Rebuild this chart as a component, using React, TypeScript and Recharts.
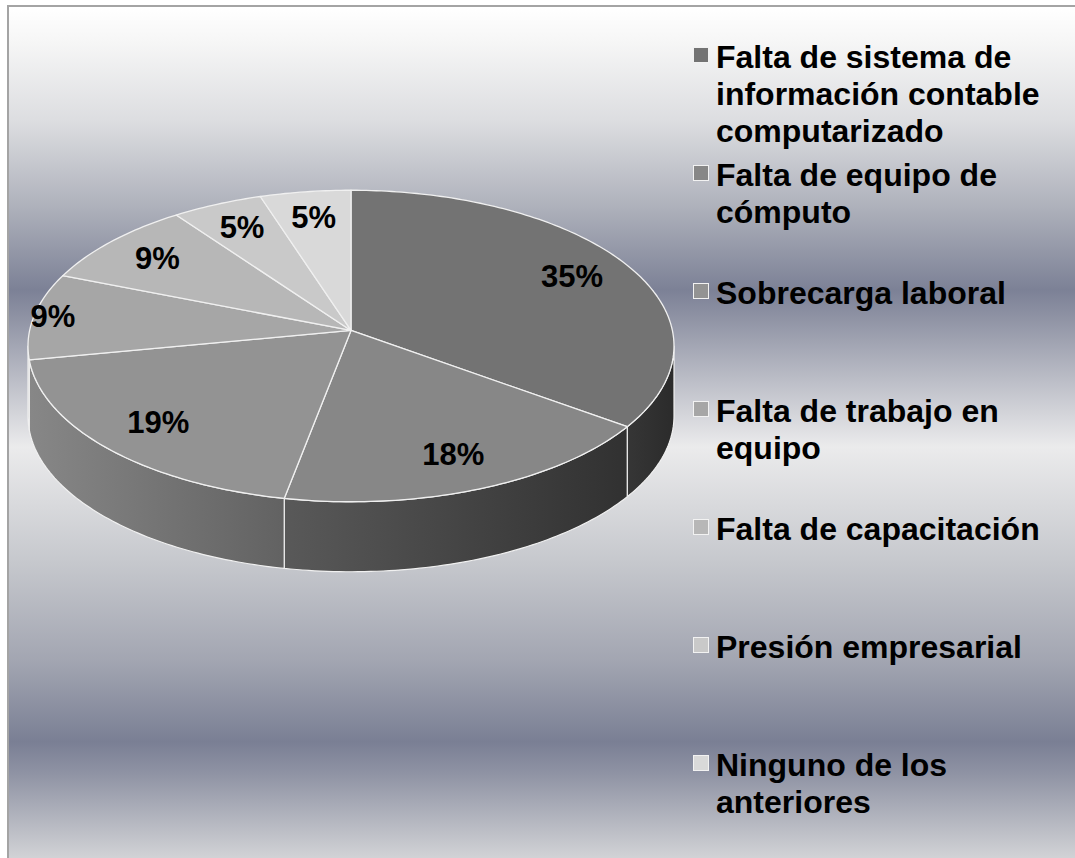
import React from 'react';
import { PieChart, Pie, Cell, Legend } from 'recharts';

// ---- data ----
const categories: string[] = [
  'Falta de sistema de información contable computarizado',
  'Falta de equipo de cómputo',
  'Sobrecarga laboral',
  'Falta de trabajo en equipo',
  'Falta de capacitación',
  'Presión empresarial',
  'Ninguno de los anteriores',
];
const percentages: number[] = [35, 18, 19, 9, 9, 5, 5];

// ---- styles ----
const topColors = ['#737373', '#878787', '#939393', '#a6a6a6', '#b7b7b7', '#c9c9c9', '#d9d9d9'];
const sideColors: [string, string][] = [
  ['#363636', '#2b2b2b'],
  ['#595959', '#313131'],
  ['#878787', '#626262'],
  ['#8e8e8e', '#878787'],
  ['#999999', '#999999'],
  ['#a9a9a9', '#a9a9a9'],
  ['#b5b5b5', '#b5b5b5'],
];
const labelRadiusFactor: Record<number, number> = { 3: 0.94 };

const A = -0.1; // perspective factor
const S = Math.sqrt(1 - A * A);
const RY_RATIO = 156 / 323.5;
const DEPTH = 70;
const EDGE = (Math.asin(-A) * 180) / Math.PI;
const FRONT_LO = -180 + EDGE;
const FRONT_HI = -EDGE;
const STROKE = '#f0f0f0';
const FONT = '"Liberation Sans", Arial, Helvetica, sans-serif';

const data = categories.map((name, i) => ({ name, value: percentages[i] }));

function project(cx: number, cy: number, rx: number, ry: number, deg: number, r: number) {
  const t = (deg * Math.PI) / 180;
  const u = r * Math.cos(t);
  const v = -r * Math.sin(t);
  const w = 1 + A * v;
  return [cx + (rx * S * u) / w, cy + (ry * (v + A)) / w];
}

function arcPoints(cx: number, cy: number, rx: number, ry: number, from: number, to: number) {
  const pts: number[][] = [];
  const n = Math.max(2, Math.ceil(Math.abs(from - to)));
  for (let k = 0; k <= n; k++) {
    const d = from + ((to - from) * k) / n;
    pts.push(project(cx, cy, rx, ry, d, 1));
  }
  return pts;
}

function indexOfProps(props: any): number {
  if (typeof props.index === 'number') return props.index;
  const nm = props.name ?? props.payload?.name;
  const i = categories.indexOf(nm);
  return i < 0 ? 0 : i;
}

function Slice3D(props: any) {
  const { cx, cy, outerRadius, startAngle, endAngle, fill } = props;
  const idx = indexOfProps(props);
  const rx = outerRadius;
  const ry = outerRadius * RY_RATIO;
  const hi = Math.max(startAngle, endAngle);
  const lo = Math.min(startAngle, endAngle);
  const c = project(cx, cy, rx, ry, 0, 0);
  const arc = arcPoints(cx, cy, rx, ry, hi, lo);
  const topD =
    `M${c[0]},${c[1]} ` + arc.map((p) => `L${p[0]},${p[1]}`).join(' ') + ' Z';

  let sideD: string | null = null;
  const fl = Math.max(lo, FRONT_LO);
  const fh = Math.min(hi, FRONT_HI);
  if (fh > fl) {
    const upper = arcPoints(cx, cy, rx, ry, fh, fl);
    const lower = arcPoints(cx, cy, rx, ry, fl, fh).map((p) => [p[0], p[1] + DEPTH]);
    sideD =
      `M${upper[0][0]},${upper[0][1]} ` +
      upper.slice(1).map((p) => `L${p[0]},${p[1]}`).join(' ') +
      ' ' +
      lower.map((p) => `L${p[0]},${p[1]}`).join(' ') +
      ' Z';
  }
  const gid = `side-grad-${idx}`;
  const sc = sideColors[idx] || ['#555', '#333'];
  return (
    <g>
      <defs>
        <linearGradient id={gid} x1="0" y1="0" x2="1" y2="0">
          <stop offset="0%" stopColor={sc[0]} />
          <stop offset="100%" stopColor={sc[1]} />
        </linearGradient>
      </defs>
      {sideD && <path d={sideD} fill={`url(#${gid})`} stroke={STROKE} strokeWidth={1.2} strokeLinejoin="round" />}
      <path d={topD} fill={fill} stroke={STROKE} strokeWidth={1.3} strokeLinejoin="round" />
    </g>
  );
}

function renderLabel(props: any) {
  const { cx, cy, midAngle, outerRadius, value } = props;
  const idx = indexOfProps(props);
  const rx = outerRadius;
  const ry = outerRadius * RY_RATIO;
  const f = labelRadiusFactor[idx] ?? 0.8;
  const p = project(cx, cy, rx, ry, midAngle, f);
  return (
    <text
      x={p[0]}
      y={p[1]}
      textAnchor="middle"
      dominantBaseline="central"
      fill="#000"
      style={{ font: `bold 31px ${FONT}` }}
    >
      {`${value}%`}
    </text>
  );
}

function renderLegend() {
  const items = categories.map((name, i) => ({ name, color: topColors[i] }));
  return (
    <div style={{ width: 380 }}>
      {items.map((it, i) => (
        <div key={i} style={{ height: 118, display: 'flex', alignItems: 'flex-start' }}>
          <span
            style={{
              width: 14,
              height: 14,
              background: it.color,
              border: '1.5px solid #f2f2f2',
              marginTop: 8,
              marginRight: 7,
              flex: 'none',
              display: 'block',
            }}
          />
          <span
            style={{
              width: 350,
              font: `bold 32px ${FONT}`,
              lineHeight: '37px',
              color: '#000',
              display: 'block',
            }}
          >
            {it.name}
          </span>
        </div>
      ))}
    </div>
  );
}

export default function App() {
  return (
    <div style={{ position: 'absolute', left: 0, top: 0, width: 1075, height: 858, overflow: 'hidden' }}>
      <div
        style={{
          position: 'absolute',
          left: 7,
          top: 5,
          width: 1068,
          height: 853,
          boxSizing: 'border-box',
          borderLeft: '2px solid #a4a4a4',
          borderTop: '2px solid #a4a4a4',
          background:
            'linear-gradient(to bottom, #ffffff 0px, #f6f6f6 35px, #dcdde0 115px, #aeb1bb 200px, #7c8196 283px, #8b8fa1 305px, #ebebec 440px, #c6c8cd 555px, #a2a5b1 655px, #7a7f94 735px, #8e92a3 765px, #d3d4d7 853px)',
        }}
      />
      <div style={{ position: 'absolute', left: 0, top: 0 }}>
        <PieChart width={1075} height={858} margin={{ top: 0, right: 0, bottom: 0, left: 0 }}>
          <Pie
            data={data}
            dataKey="value"
            nameKey="name"
            cx={351}
            cy={346}
            outerRadius={323}
            startAngle={90}
            endAngle={-270}
            stroke="none"
            isAnimationActive={false}
            labelLine={false}
            label={renderLabel}
            shape={Slice3D as any}
            activeShape={Slice3D as any}
            inactiveShape={Slice3D as any}
            legendType="rect"
          >
            {data.map((_, i) => (
              <Cell key={i} fill={topColors[i]} />
            ))}
          </Pie>
          <Legend
            layout="vertical"
            align="right"
            verticalAlign="top"
            content={renderLegend as any}
            wrapperStyle={{ left: 693, top: 39, right: 'auto', width: 380 }}
          />
        </PieChart>
      </div>
    </div>
  );
}
